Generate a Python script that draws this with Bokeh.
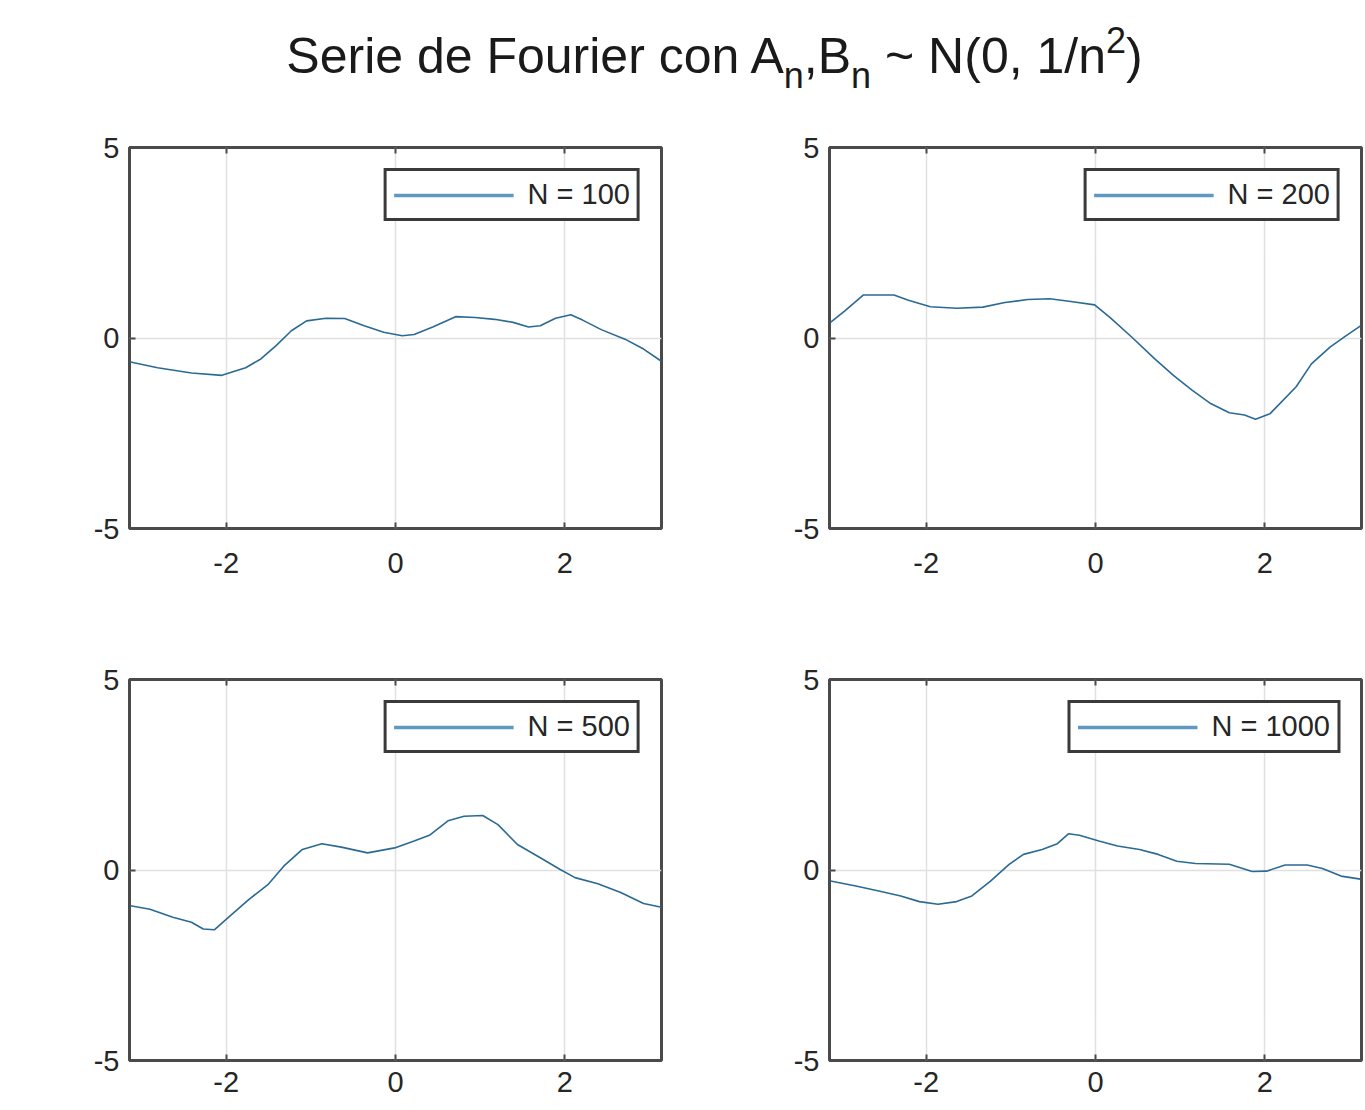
from bokeh.plotting import figure
from bokeh.models import (FixedTicker, Range1d, Legend, LegendItem, Div, LinearAxis)
from bokeh.layouts import column, row
from bokeh.embed import file_html
from bokeh.resources import INLINE
import math

# ---- data ----
x100 = [-3.13, -2.81, -2.41, -2.05, -1.77, -1.59, -1.41, -1.23, -1.05, -0.82, -0.60, -0.37, -0.14,
        0.08, 0.22, 0.44, 0.71, 0.94, 1.17, 1.39, 1.57, 1.71, 1.89, 2.07, 2.21, 2.43, 2.71, 2.93, 3.14]
y100 = [-0.63, -0.78, -0.92, -0.98, -0.78, -0.55, -0.20, 0.19, 0.45, 0.52, 0.51, 0.32, 0.15,
        0.06, 0.09, 0.29, 0.56, 0.54, 0.49, 0.41, 0.29, 0.32, 0.52, 0.61, 0.47, 0.22, -0.03, -0.29, -0.61]

x200 = [-3.13, -2.96, -2.74, -2.38, -2.21, -1.95, -1.64, -1.33, -1.07, -0.80, -0.54, -0.27, -0.01,
        0.17, 0.43, 0.70, 0.92, 1.14, 1.36, 1.58, 1.76, 1.89, 2.06, 2.37, 2.55, 2.77, 2.94, 3.13]
y200 = [0.41, 0.71, 1.13, 1.13, 0.99, 0.82, 0.78, 0.81, 0.93, 1.01, 1.03, 0.95, 0.87,
        0.54, 0.02, -0.55, -0.98, -1.37, -1.72, -1.96, -2.02, -2.13, -1.99, -1.28, -0.68, -0.24, 0.03, 0.32]

x500 = [-3.13, -2.90, -2.63, -2.41, -2.27, -2.14, -1.95, -1.73, -1.50, -1.32, -1.10, -0.87, -0.64,
        -0.33, -0.01, 0.22, 0.40, 0.62, 0.81, 1.03, 1.21, 1.44, 1.71, 1.94, 2.12, 2.39, 2.66, 2.93, 3.14]
y500 = [-0.94, -1.03, -1.24, -1.37, -1.55, -1.57, -1.20, -0.77, -0.37, 0.10, 0.54, 0.69, 0.60,
        0.45, 0.58, 0.76, 0.91, 1.29, 1.41, 1.43, 1.19, 0.67, 0.32, 0.02, -0.20, -0.36, -0.59, -0.88, -0.98]

x1000 = [-3.13, -2.83, -2.56, -2.30, -2.08, -1.86, -1.64, -1.46, -1.24, -1.02, -0.85, -0.63, -0.45,
         -0.32, -0.19, 0.04, 0.26, 0.52, 0.74, 0.96, 1.18, 1.58, 1.85, 2.02, 2.24, 2.50, 2.68, 2.90, 3.13]
y1000 = [-0.29, -0.42, -0.55, -0.68, -0.83, -0.90, -0.83, -0.68, -0.29, 0.15, 0.41, 0.54, 0.69,
         0.95, 0.91, 0.76, 0.63, 0.54, 0.41, 0.23, 0.17, 0.15, -0.04, -0.03, 0.13, 0.13, 0.04, -0.16, -0.24]

labels = ["N = 100", "N = 200", "N = 500", "N = 1000"]
x_ticks = [-2, 0, 2]
y_ticks = [-5, 0, 5]
x_tick_labels = {-2: "-2", 0: "0", 2: "2"}
y_tick_labels = {-5: "-5", 0: "0", 5: "5"}

FONT = "Liberation Sans"
TXT = "#262626"
LINE = "#2a6a94"
LEG_LINE = "#5f98c0"
FRAME = "#4a4a4a"

def make(xs, ys, label, left, right, top, bottom, xstandoff):
    p = figure(frame_width=532, frame_height=381, output_backend="svg", toolbar_location=None,
               x_range=Range1d(-math.pi, math.pi), y_range=Range1d(-5, 5),
               min_border_left=left, min_border_right=right,
               min_border_top=top, min_border_bottom=bottom)
    p.background_fill_color = "white"
    p.border_fill_color = "white"
    p.outline_line_color = FRAME
    p.outline_line_width = 3
    for ax in (p.xaxis[0], p.yaxis[0]):
        ax.axis_line_color = None
        ax.major_tick_in = 6
        ax.major_tick_out = 0
        ax.minor_tick_line_color = None
        ax.major_tick_line_color = FRAME
        ax.major_tick_line_width = 2
        ax.major_label_text_font = FONT
        ax.major_label_text_font_size = "29px"
        ax.major_label_text_color = TXT
    p.xaxis.ticker = FixedTicker(ticks=x_ticks)
    p.yaxis.ticker = FixedTicker(ticks=y_ticks)
    p.xaxis.major_label_overrides = x_tick_labels
    p.yaxis.major_label_overrides = y_tick_labels
    p.xaxis.major_label_standoff = xstandoff
    p.yaxis.major_label_standoff = 10
    top_ax = LinearAxis(ticker=FixedTicker(ticks=x_ticks),
                        major_label_overrides={-2: "", 0: "", 2: ""},
                        axis_line_color=None, major_tick_in=6, major_tick_out=0,
                        major_tick_line_color=FRAME, major_tick_line_width=2,
                        minor_tick_line_color=None, major_label_standoff=0)
    p.add_layout(top_ax, "above")
    p.xgrid.ticker = FixedTicker(ticks=x_ticks)
    p.ygrid.ticker = FixedTicker(ticks=y_ticks)
    p.xgrid.grid_line_color = "#e0e0e0"
    p.ygrid.grid_line_color = "#e0e0e0"
    p.xgrid.grid_line_width = 1.5
    p.ygrid.grid_line_width = 1.5
    p.line(xs, ys, line_color=LINE, line_width=1.6)
    dummy = p.line([float("nan")], [float("nan")], line_color=LEG_LINE, line_width=3.5)
    leg = Legend(items=[LegendItem(label=label, renderers=[dummy])], location="top_right")
    leg.margin = 21
    leg.padding = 7
    leg.glyph_width = 120
    leg.glyph_height = 20
    leg.label_height = 20
    leg.label_standoff = 14
    leg.label_text_font = FONT
    leg.label_text_font_size = "29px"
    leg.label_text_color = TXT
    leg.border_line_color = "#3a3a3a"
    leg.border_line_alpha = 1
    leg.border_line_width = 3
    leg.background_fill_color = "white"
    leg.background_fill_alpha = 1
    p.add_layout(leg, "center")
    return p

p1 = make(x100, y100, labels[0], 129, 84, 57, 94, 24)
p2 = make(x200, y200, labels[1], 84, 4, 57, 94, 24)
p3 = make(x500, y500, labels[2], 129, 84, 57, 40, 11)
p4 = make(x1000, y1000, labels[3], 84, 4, 57, 40, 11)

sub = "font-size:36px;vertical-align:-0.42em;line-height:0"
sup = "font-size:36px;vertical-align:0.55em;line-height:0"
title = Div(text=("<div style=\"font-family:'Liberation Sans';font-size:50px;color:#1a1a1a;"
                  "text-align:center;width:1365px;padding-left:64px;box-sizing:border-box;"
                  "line-height:1;padding-top:31px;white-space:nowrap;\">"
                  f"Serie de Fourier con A<span style='{sub}'>n</span>,B<span style='{sub}'>n</span>"
                  f" ~ N(0, 1/n<span style='{sup}'>2</span>)</div>"),
            width=1365, height=90, margin=(0, 0, 0, 0))

layout = column(title, row(p1, p2, spacing=0), row(p3, p4, spacing=0), spacing=0)

open("out.html", "w").write(file_html(layout, INLINE))
